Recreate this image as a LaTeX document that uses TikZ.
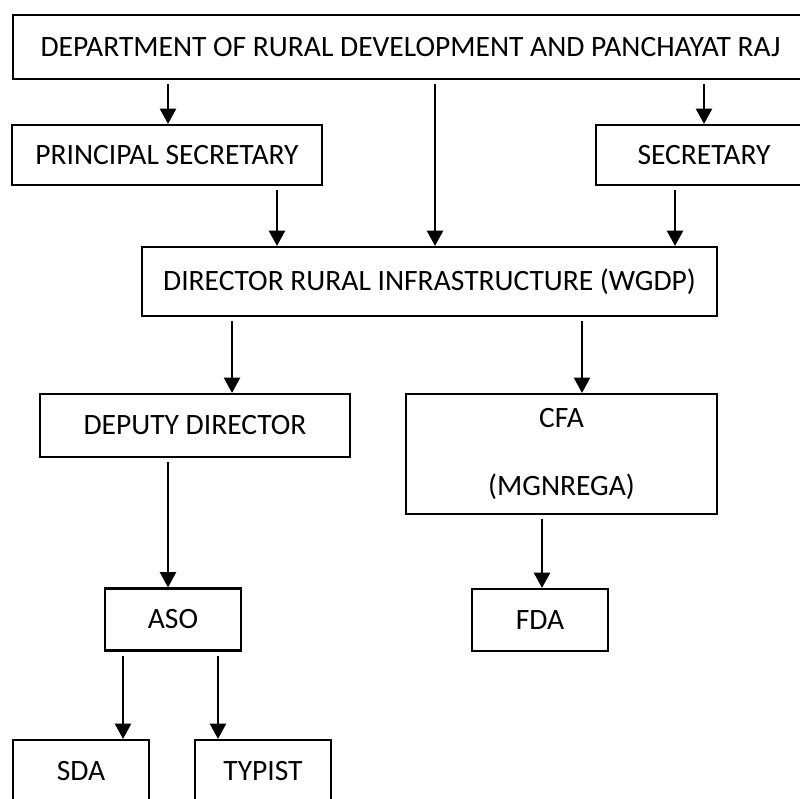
\documentclass[tikz,border=0pt]{standalone}
\usepackage{fontspec}
\setmainfont{Carlito}
\usetikzlibrary{arrows.meta}
\tikzset{%
  every office/.style={
    rectangle,
    draw,
    line width=1.5pt,
    inner sep=0pt,
    align=center,
    font=\fontsize{21}{24}\selectfont
  },
  small office/.style={
    minimum width=3.4cm,
    minimum height=1.55cm
  },
  link/.style={
    line width=1.5pt,
    shorten <=0.1cm,
    -{Triangle[width=0.4cm,length=0.38cm]}
  },
}
\begin{document}
\begin{tikzpicture}[x=0.025cm, y=-0.025cm]

\clip (0,0) rectangle (800,799);

% Top of the chart
\node [every office, minimum width=19.875cm, minimum height=1.6cm] (dept) at (410.5,47)
  {DEPARTMENT OF RURAL DEVELOPMENT AND PANCHAYAT RAJ};

% Secretaries
\node [every office, minimum width=7.75cm, minimum height=1.5cm] (princ) at (167,155) {PRINCIPAL SECRETARY};
\node [every office, minimum width=5.4cm, minimum height=1.5cm] (secr) at (704,155) {SECRETARY};

% Director
\node [every office, minimum width=14.375cm, minimum height=1.725cm] (dir) at (429.5,281.5)
  {DIRECTOR RURAL INFRASTRUCTURE (WGDP)};

% Second level
\node [every office, minimum width=7.75cm, minimum height=1.575cm] (dep) at (195,425.5) {DEPUTY DIRECTOR};
\node [every office, minimum width=7.775cm, minimum height=3cm] (cfa) at (561.5,454) {CFA\\[24pt](MGNREGA)};

% Lower offices
\node [every office, small office] (aso) at (173,619.5) {ASO};
\node [every office, small office] (fda) at (540,620) {FDA};
\node [every office, small office] (sda) at (81,771) {SDA};
\node [every office, small office] (typ) at (263,771) {TYPIST};

% ALL OF THE ARROWS
\foreach \a/\b/\x in {dept/princ/168, dept/dir/435, dept/secr/704,
                      princ/dir/277, secr/dir/675,
                      dir/dep/232, dir/cfa/582, dep/aso/168, cfa/fda/542,
                      aso/sda/123, aso/typ/218}
  \draw [link] (\a.south -| \x,0) -- (\b.north -| \x,0);

\end{tikzpicture}
\end{document}
